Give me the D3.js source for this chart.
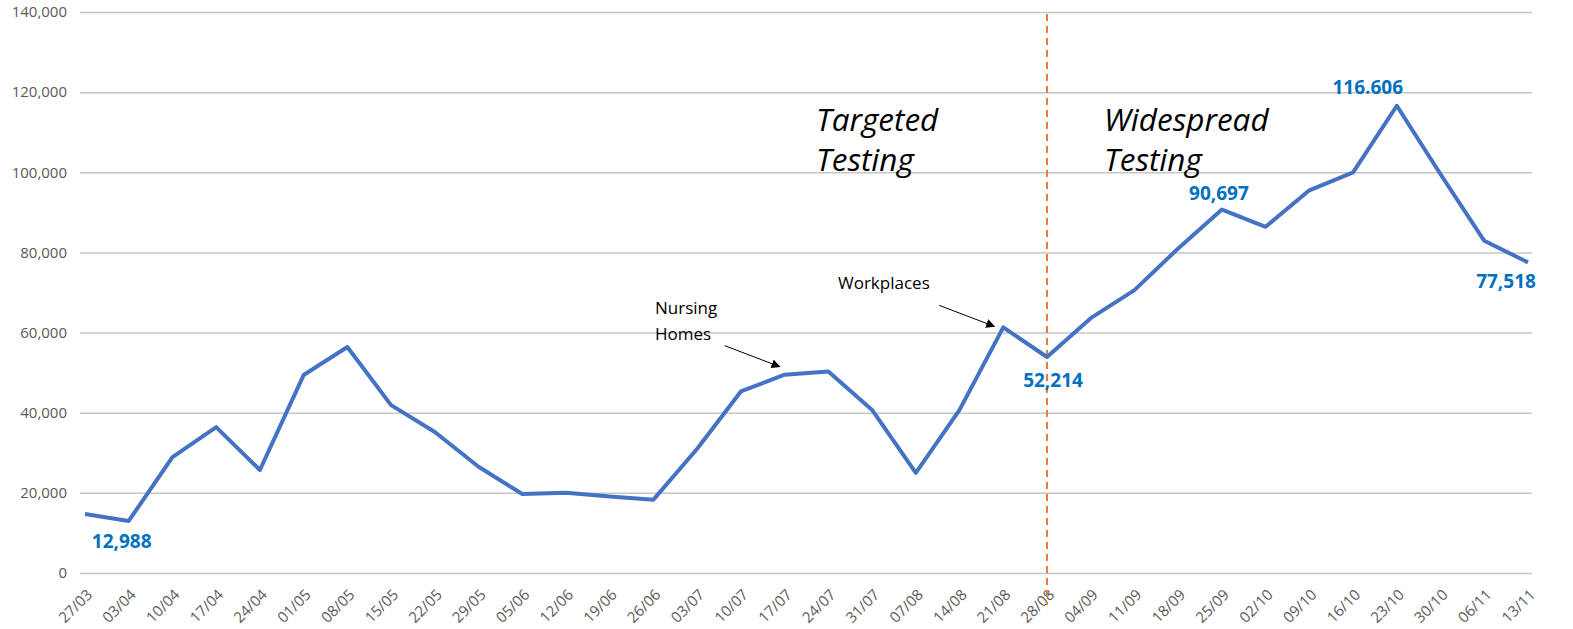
<!DOCTYPE html>
<html>
<head>
<meta charset="utf-8">
<script src="https://cdn.jsdelivr.net/npm/d3@7"></script>
<style>
  body { margin: 0; background: #fff; }
  svg { display: block; font-family: "Open Sans", sans-serif; }
</style>
</head>
<body>
<div id="chart"></div>
<script>
// weekly dates
const weeks = [
  "27/03", "03/04", "10/04", "17/04", "24/04", "01/05", "08/05", "15/05", "22/05", "29/05",
  "05/06", "12/06", "19/06", "26/06", "03/07", "10/07", "17/07", "24/07", "31/07", "07/08",
  "14/08", "21/08", "28/08", "04/09", "11/09", "18/09", "25/09", "02/10", "09/10", "16/10",
  "23/10", "30/10", "06/11", "13/11"
];

// tests per week
const tests = [
  14700, 12988, 28900, 36400, 25700, 49400, 56400, 41900, 35200, 26500,
  19700, 20000, 19100, 18300, 31000, 45300, 49500, 50300, 40700, 25000,
  40700, 61300, 53900, 63600, 70600, 81000, 90697, 86400, 95500, 100000,
  116606, 99500, 82900, 77518
];

const yTicks = [0, 20000, 40000, 60000, 80000, 100000, 120000, 140000];

// data labels shown on the chart
const labelWeeks = ["03/04", "28/08", "25/09", "23/10", "13/11"];
const labelTexts = ["12,988", "52,214", "90,697", "116.606", "77,518"];
const labelOffsets = [[-7, 20], [6, 23], [-3, -16], [-29, -18], [-22, 19]];

const width = 1573;
const height = 629;

const svg = d3.select("#chart")
  .append("svg")
  .attr("width", width)
  .attr("height", height);

svg.append("rect").attr("width", width).attr("height", height).attr("fill", "#fff");

// scales
const x = d3.scalePoint().domain(weeks).range([85, 1528]);
const y = d3.scaleLinear().domain([0, 140000]).range([573, 12]);

const gridLeft = 80;
const gridRight = 1532;

// y axis + gridlines
const yAxis = svg.append("g")
  .attr("transform", `translate(${gridLeft},0)`)
  .call(d3.axisLeft(y)
    .tickValues(yTicks)
    .tickSize(-(gridRight - gridLeft))
    .tickPadding(13)
    .tickFormat(d3.format(",")));

yAxis.select(".domain").remove();
yAxis.selectAll(".tick line")
  .attr("stroke", "#c6c6c6")
  .attr("stroke-width", 1.5);
yAxis.selectAll(".tick text")
  .attr("fill", "#595959")
  .style("font-size", "15px")
  .style("font-family", "Open Sans");

// x axis, rotated labels
const xAxis = svg.append("g")
  .attr("transform", `translate(0,${y(0)})`)
  .call(d3.axisBottom(x).tickSize(0));

xAxis.select(".domain").remove();
xAxis.selectAll(".tick text")
  .attr("x", 0)
  .attr("y", 0)
  .attr("dy", "0.35em")
  .attr("text-anchor", "end")
  .attr("transform", "translate(4,19) rotate(-45)")
  .attr("fill", "#595959")
  .style("font-size", "15px")
  .style("font-family", "Open Sans");

// dashed split line at 28/08
svg.append("line")
  .attr("x1", x("28/08"))
  .attr("x2", x("28/08"))
  .attr("y1", 14)
  .attr("y2", 605)
  .attr("stroke", "#ED7D31")
  .attr("stroke-width", 2)
  .attr("stroke-dasharray", "7,5");

// main line
const line = d3.line()
  .x((d, i) => x(weeks[i]))
  .y((d) => y(d));

svg.append("path")
  .datum(tests)
  .attr("d", line)
  .attr("fill", "none")
  .attr("stroke", "#4472C4")
  .attr("stroke-width", 4)
  .attr("stroke-linejoin", "round");

// data labels
labelWeeks.forEach((w, i) => {
  const idx = weeks.indexOf(w);
  svg.append("text")
    .attr("x", x(w) + labelOffsets[i][0])
    .attr("y", y(tests[idx]) + labelOffsets[i][1])
    .attr("dy", "0.35em")
    .attr("text-anchor", "middle")
    .attr("fill", "#0070C0")
    .style("font-size", "19px")
    .style("font-weight", "bold")
    .text(labelTexts[i]);
});

// phase titles
const phase = [
  { x: 816, lines: ["Targeted", "Testing"] },
  { x: 1104, lines: ["Widespread", "Testing"] }
];
phase.forEach((p) => {
  p.lines.forEach((t, j) => {
    svg.append("text")
      .attr("x", p.x)
      .attr("y", 131 + j * 40)
      .attr("fill", "#000")
      .style("font-size", "31.5px")
      .style("font-style", "italic")
      .text(t);
  });
});

// arrow marker
svg.append("defs").append("marker")
  .attr("id", "arrow")
  .attr("viewBox", "0 0 10 10")
  .attr("refX", 9)
  .attr("refY", 5)
  .attr("markerWidth", 9)
  .attr("markerHeight", 9)
  .attr("markerUnits", "userSpaceOnUse")
  .attr("orient", "auto")
  .append("path")
  .attr("d", "M0,0 L10,5 L0,10 z")
  .attr("fill", "#000");

// callouts
const callouts = [
  { week: "17/07", lines: ["Nursing", "Homes"], tx: 655, ty: 314, end: [-5, -8] },
  { week: "21/08", lines: ["Workplaces"], tx: 838, ty: 289, end: [-9, -1] }
];
callouts.forEach((c) => {
  const idx = weeks.indexOf(c.week);
  const ex = x(c.week) + c.end[0];
  const ey = y(tests[idx]) + c.end[1];
  svg.append("line")
    .attr("x1", ex - 55)
    .attr("y1", ey - 21)
    .attr("x2", ex)
    .attr("y2", ey)
    .attr("stroke", "#000")
    .attr("stroke-width", 1)
    .attr("marker-end", "url(#arrow)");
  c.lines.forEach((t, j) => {
    svg.append("text")
      .attr("x", c.tx)
      .attr("y", c.ty + j * 26)
      .attr("fill", "#000")
      .style("font-size", "17px")
      .text(t);
  });
});
</script>
</body>
</html>
